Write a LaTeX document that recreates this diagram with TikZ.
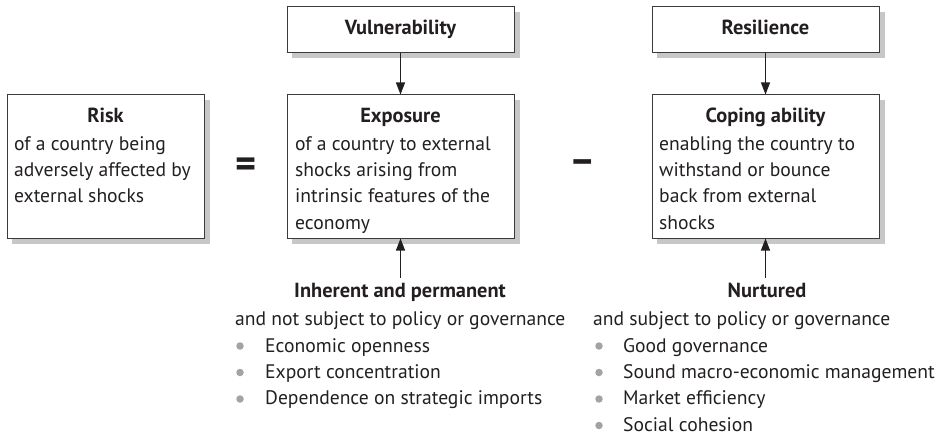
\documentclass[tikz,border=0pt]{standalone}
\usepackage{fontspec}
\setmainfont{PT Sans}
\usetikzlibrary{arrows.meta}
\definecolor{txt}{HTML}{231F20}
\definecolor{edgegray}{HTML}{3A3A3A}
\definecolor{dotgray}{HTML}{A3A3A5}
\definecolor{shadowgray}{rgb}{0.78,0.78,0.78}
\newcommand{\bodyfont}{\fontsize{19.6}{26.4}\selectfont}
\newcommand{\titlefont}{\fontsize{20.4}{26.4}\selectfont\bfseries}
\tikzset{
  every node/.style={text=txt, font=\bodyfont},
  box/.style={draw=edgegray, line width=1pt, fill=white, inner sep=0pt},
  shadowline/.style={draw=shadowgray, line width=5pt, line cap=butt, line join=miter},
  title/.style={anchor=base, font=\titlefont, inner sep=0pt},
  body/.style={anchor=north west, align=left, inner sep=0pt},
  conn/.style={draw=txt, line width=1.1pt, -{Triangle[length=12pt,width=9pt]}},
  bul/.style={circle, fill=dotgray, minimum size=7.5pt, inner sep=0pt},
  sign/.style={font=\fontsize{40}{40}\selectfont\bfseries, inner sep=0pt}
}
% #1 name, #2 left, #3 top, #4 right, #5 bottom; grey shadow strip to the right and below
\newcommand{\shadowedbox}[5]{%
  \node[box, minimum width=#4pt-#2pt, minimum height=#5pt-#3pt] (#1) at ({(#2+#4)/2},{(#3+#5)/2}) {};
  \draw[shadowline] (#4+3,#3+5) -- (#4+3,#5+3) -- (#2+5,#5+3);}
\begin{document}
\begin{tikzpicture}[x=1pt,y=-1pt]
\useasboundingbox (0,0) rectangle (941,438);
% boxes
\shadowedbox{risk}{7}{95}{204}{238}
\shadowedbox{vul}{287}{7}{514}{53}
\shadowedbox{exp}{287}{95}{514}{238}
\shadowedbox{res}{652}{7}{879}{53}
\shadowedbox{cop}{652}{95}{879}{238}
% box texts
\node[title] (vult) at (400.5,35) {Vulnerability};
\node[title] (rest) at (765.5,35) {Resilience};
\node[title] (riskt) at (105.5,123) {Risk};
\node[body] (riskb) at (14,131.5) {\strut of a country being\\adversely affected by\\external shocks};
\node[title] (expt) at (400.5,123) {Exposure};
\node[body] (expb) at (295,131.5) {\strut of a country to external\\shocks arising from\\intrinsic features of the\\economy};
\node[title] (copt) at (765.5,123) {Coping ability};
\node[body] (copb) at (659,131.5) {\strut enabling the country to\\withstand or bounce\\back from external\\shocks};
% signs
\node[sign] (eq) at (246.5,168) {=};
\node[sign] (mi) at (582.5,167) {–};
% lower texts
\node[title] (inh) at (400,297) {Inherent and permanent};
\node[body] (inhb) at (235,306.5) {\strut and not subject to policy or governance};
\node[body] (inhl) at (265,333.5) {\strut Economic openness\\Export concentration\\Dependence on strategic imports};
\node[title] (nur) at (767,297) {Nurtured};
\node[body] (nurb) at (593,306.5) {\strut and subject to policy or governance};
\node[body] (nurl) at (623,333.5) {\strut Good governance\\Sound macro-economic management\\Market efficiency\\Social cohesion};
% bullets
\foreach \y [count=\i] in {346,372.5,399} \node[bul] (bl\i) at (240,\y) {};
\foreach \y [count=\i] in {346,372.5,399,425.5} \node[bul] (br\i) at (599,\y) {};
% connectors
\coordinate (inhtop) at (400.5,278);
\coordinate (nurtop) at (765.5,278);
\draw[conn] (vul.south) -- (exp.north);
\draw[conn] (res.south) -- (cop.north);
\draw[conn] (inhtop) -- (exp.south);
\draw[conn] (nurtop) -- (cop.south);
\end{tikzpicture}
\end{document}
